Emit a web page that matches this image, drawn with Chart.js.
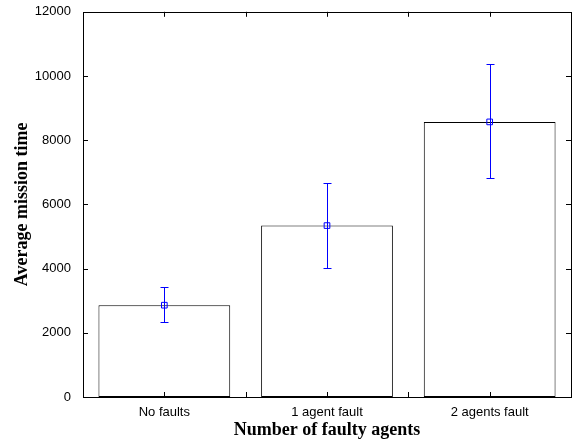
<!DOCTYPE html>
<html lang="en">
  <script src="https://cdn.jsdelivr.net/npm/chart.js@4/dist/chart.umd.min.js"></script>
  <head>
    <meta charset="UTF-8" />
    <title>Average mission time</title>
    <style>
      html, body { margin: 0; padding: 0; background: #fff; }
      #wrap { width: 576px; height: 441px; }
    </style>
  </head>
  <body>
    <div id="wrap"><canvas id="missionChart" width="576" height="441"></canvas></div>
    <script>
      var categories = ["No faults", "1 agent fault", "2 agents fault"];
      var meanTime = [2860, 5340, 8570];
      var errLow = [2330, 4010, 6810];
      var errHigh = [3420, 6680, 10360];
      var yTicks = [0, 2000, 4000, 6000, 8000, 10000, 12000];

      // box, inward ticks and error bars
      var boxPlugin = {
        id: "boxPlugin",
        afterDatasetsDraw: function(chart) {
          var ctx = chart.ctx;
          var a = chart.chartArea;
          var xs = chart.scales.x, ys = chart.scales.y;
          ctx.save();
          ctx.strokeStyle = "#000";
          ctx.lineWidth = 1;
          ctx.strokeRect(Math.round(a.left) + 0.5, Math.round(a.top) + 0.5,
                         Math.round(a.right - a.left), Math.round(a.bottom - a.top));
          ctx.beginPath();
          yTicks.forEach(function(v) {
            var y = Math.round(ys.getPixelForValue(v)) + 0.5;
            ctx.moveTo(a.left, y); ctx.lineTo(a.left + 5, y);
            ctx.moveTo(a.right, y); ctx.lineTo(a.right - 5, y);
          });
          for (var i = 0; i < categories.length * 2 - 1; i++) {
            var x = Math.round(xs.getPixelForValue(i / 2)) + 0.5;
            ctx.moveTo(x, a.bottom); ctx.lineTo(x, a.bottom - 5);
            ctx.moveTo(x, a.top); ctx.lineTo(x, a.top + 5);
          }
          ctx.stroke();

          ctx.strokeStyle = "#0000ff";
          ctx.beginPath();
          for (var j = 0; j < categories.length; j++) {
            var cx = Math.round(xs.getPixelForValue(j)) + 0.5;
            var yl = Math.round(ys.getPixelForValue(errLow[j])) + 0.5;
            var yh = Math.round(ys.getPixelForValue(errHigh[j])) + 0.5;
            ctx.moveTo(cx, yl); ctx.lineTo(cx, yh);
            ctx.moveTo(cx - 4, yl); ctx.lineTo(cx + 4, yl);
            ctx.moveTo(cx - 4, yh); ctx.lineTo(cx + 4, yh);
          }
          ctx.stroke();
          ctx.restore();
        }
      };

      new Chart("missionChart", {
        type: "bar",
        data: {
          labels: categories,
          datasets: [{
            type: "line",
            data: meanTime,
            showLine: false,
            pointStyle: "rect",
            pointRadius: 4,
            pointBorderColor: "#0000ff",
            pointBackgroundColor: "rgba(0,0,0,0)",
            pointBorderWidth: 1,
            order: 0
          }, {
            data: meanTime,
            backgroundColor: "#ffffff",
            borderColor: "#000000",
            borderWidth: 1,
            borderSkipped: false,
            barPercentage: 0.81,
            categoryPercentage: 1,
            order: 1
          }]
        },
        plugins: [boxPlugin],
        options: {
          responsive: false,
          animation: false,
          events: [],
          layout: { padding: { top: 10, right: 3, left: 0, bottom: 0 } },
          plugins: { legend: { display: false }, tooltip: { enabled: false } },
          scales: {
            x: {
              grid: { display: false },
              border: { display: false },
              ticks: { color: "#000", font: { family: "Liberation Sans", size: 13 }, padding: 0 },
              title: {
                display: true,
                text: "Number of faulty agents",
                color: "#000",
                font: { family: "Liberation Serif", size: 18, weight: "bold" },
                padding: { top: 0, bottom: 0 }
              },
              afterFit: function(s) { s.height = 44; }
            },
            y: {
              min: 0,
              max: 12000,
              grid: { display: false },
              border: { display: false },
              afterBuildTicks: function(s) { s.ticks = yTicks.map(function(v) { return { value: v }; }); },
              ticks: {
                color: "#000",
                font: { family: "Liberation Sans", size: 13 },
                padding: 4,
                callback: function(v) { return String(v); }
              },
              title: {
                display: true,
                text: "Average mission time",
                color: "#000",
                font: { family: "Liberation Serif", size: 18, weight: "bold" },
                padding: { top: 12, bottom: 0 }
              },
              afterFit: function(s) { s.width = 83; }
            }
          }
        }
      });
    </script>
  </body>
</html>
